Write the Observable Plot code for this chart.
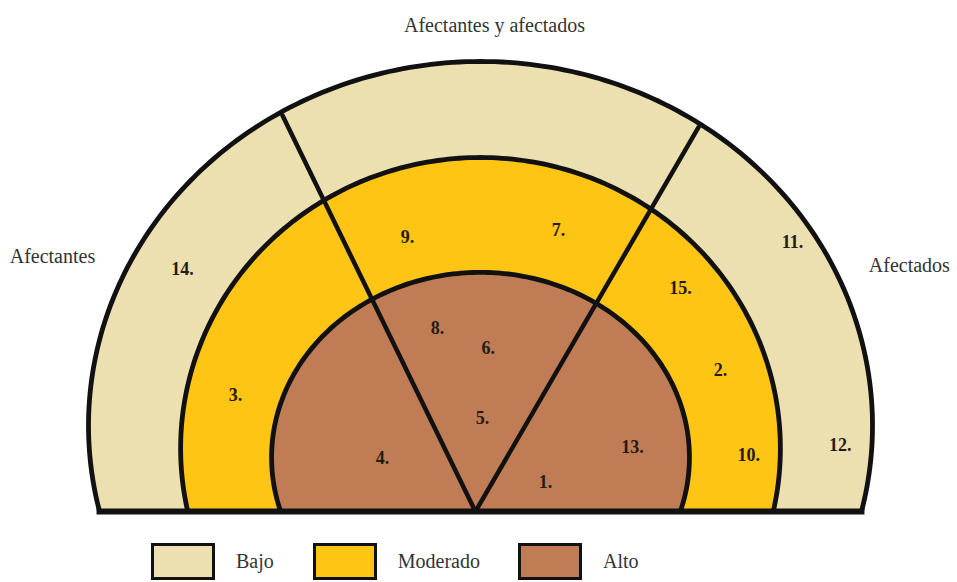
<!DOCTYPE html>
<html><head><meta charset="utf-8">
<script src="https://cdn.jsdelivr.net/npm/d3@7"></script>
<script src="https://cdn.jsdelivr.net/npm/@observablehq/plot@0.6"></script>
<style>
body{margin:0;background:#fff;font-family:"Liberation Serif","Times New Roman",serif;}
#title{height:30px;padding-top:15px;line-height:20px;font-size:20px;text-align:center;padding-left:32px;color:#333;}
#chart svg{display:block;}
#legend{position:relative;height:47px;display:flex;align-items:flex-start;padding-left:151px;padding-top:8px;box-sizing:border-box;}
.item{display:flex;align-items:center;}
.box{width:64px;height:37px;border:3px solid #111;box-sizing:border-box;}
.lab{margin-left:21px;font-size:20px;color:#333;}
</style></head><body>
<div id="title">Afectantes y afectados</div>
<div id="chart"></div>
<div id="legend"></div>
<script>
// Levels (outer to inner)
const levels = ["Bajo", "Moderado", "Alto"];
const levelColors = ["#ede0b0", "#fec514", "#bf7c55"];
// Ring shapes (units: outer horizontal radius = 1, base at y = 0)
const ringCy = [0.219, 0.161, 0.138];
const ringRx = [1.0, 0.765, 0.533];
const ringRy = [0.929, 0.742, 0.472];
// Dividing lines from the apex to the outer edge
const dividerX1 = [-0.013, -0.013];
const dividerY1 = [0, 0];
const dividerX2 = [-0.505, 0.556];
const dividerY2 = [1.010, 0.980];
// Numbered items
const pointLabels = ["14.", "9.", "7.", "11.", "15.", "8.", "6.", "3.", "2.", "5.", "4.", "13.", "1.", "10.", "12."];
const pointX = [-0.760, -0.186, 0.199, 0.796, 0.510, -0.110, 0.020, -0.625, 0.612, 0.005, -0.250, 0.388, 0.166, 0.684, 0.918];
const pointY = [0.617, 0.699, 0.717, 0.686, 0.569, 0.467, 0.416, 0.296, 0.360, 0.237, 0.135, 0.163, 0.074, 0.143, 0.168];
// Side labels
const sideLabels = ["Afectantes", "Afectados"];
const sideX = [-1.092, 1.094];
const sideY = [0.651, 0.628];
// Legend spacing after each item (style)
const legendGaps = [39, 38, 0];

function ringPath(i) {
  const cy = ringCy[i], rx = ringRx[i], ry = ringRy[i];
  const t0 = -Math.asin(cy / ry), t1 = Math.PI - t0;
  const n = 200;
  return d3.range(n + 1).map(k => {
    const t = t0 + (t1 - t0) * k / n;
    return {x: rx * Math.cos(t), y: cy + ry * Math.sin(t)};
  });
}

const rings = levels.map((l, i) => ringPath(i));
const outerBase = ringRx[0] * Math.sqrt(1 - (ringCy[0] / ringRy[0]) ** 2);
const dividers = dividerX1.map((d, i) => ({x1: d, y1: dividerY1[i], x2: dividerX2[i], y2: dividerY2[i]}));
const points = pointLabels.map((t, i) => ({t, x: pointX[i], y: pointY[i]}));
const sides = sideLabels.map((t, i) => ({t, x: sideX[i], y: sideY[i]}));

const marks = [];
rings.forEach((r, i) => {
  marks.push(Plot.line(r, {x: "x", y: "y", fill: levelColors[i], stroke: "#111", strokeWidth: 4.8, curve: "linear"}));
});
marks.push(Plot.link(dividers, {x1: "x1", y1: "y1", x2: "x2", y2: "y2", stroke: "#111", strokeWidth: 4.5, strokeLinecap: "round"}));
marks.push(Plot.link([{x1: -outerBase, x2: outerBase, y: 0}], {x1: "x1", x2: "x2", y1: "y", y2: "y", stroke: "#111", strokeWidth: 6, strokeLinecap: "square"}));
marks.push(Plot.text(points, {x: "x", y: "y", text: "t", fontSize: 18, fontWeight: "bold", fill: "#241c12", fontFamily: "Liberation Serif"}));
marks.push(Plot.text(sides, {x: "x", y: "y", text: "t", fontSize: 20, fill: "#333", fontFamily: "Liberation Serif"}));

const chart = Plot.plot({
  width: 957,
  height: 490,
  margin: 0,
  x: {domain: [-480 / 392, 477 / 392], axis: null},
  y: {domain: [-24 / 392, 466 / 392], axis: null},
  style: {fontFamily: "Liberation Serif", background: "white"},
  marks
});
document.getElementById("chart").appendChild(chart);

const legend = document.getElementById("legend");
levels.forEach((l, i) => {
  const it = document.createElement("div");
  it.className = "item";
  it.style.marginRight = legendGaps[i] + "px";
  const b = document.createElement("div");
  b.className = "box";
  b.style.background = levelColors[i];
  const s = document.createElement("span");
  s.className = "lab";
  s.textContent = l;
  it.appendChild(b); it.appendChild(s);
  legend.appendChild(it);
});
</script>
</body></html>
